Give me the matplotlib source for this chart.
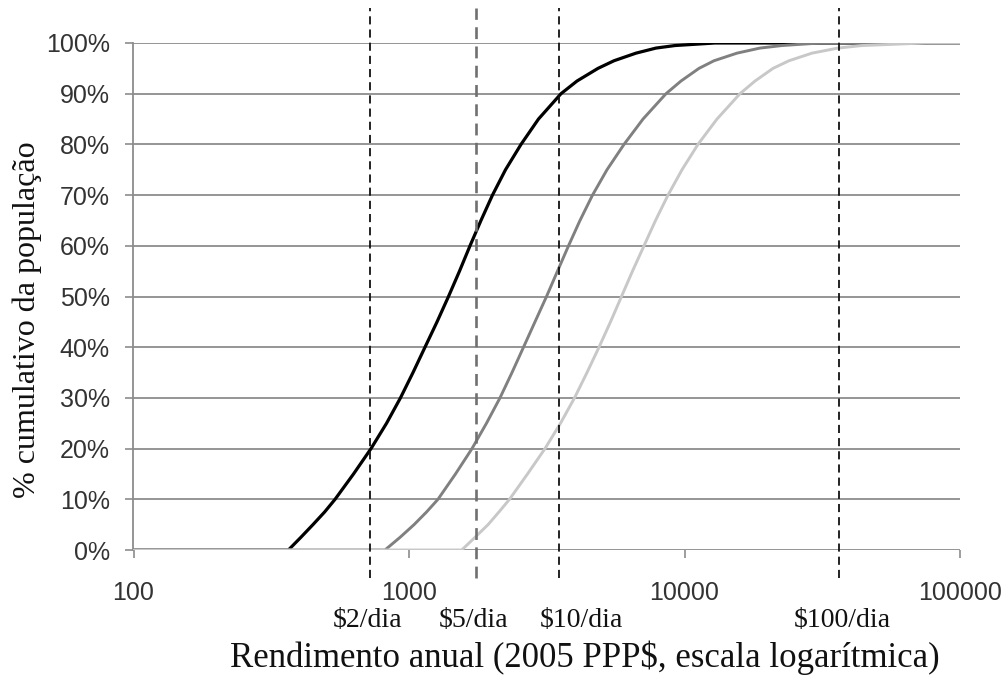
import matplotlib
matplotlib.use("Agg")
import matplotlib.pyplot as plt
import matplotlib.transforms as mtransforms
from matplotlib.ticker import FixedLocator, NullLocator, FuncFormatter

# Cumulative share of population reached at each annual income level (2005 PPP$)
cum_share = [0.000, 0.000, 0.025, 0.050, 0.075, 0.100, 0.150, 0.200, 0.250, 0.300,
             0.350, 0.400, 0.450, 0.500, 0.550, 0.600, 0.650, 0.700, 0.750, 0.800,
             0.850, 0.900, 0.925, 0.950, 0.965, 0.980, 0.990, 0.995, 1.000, 1.000]

income_black = [100, 365, 405, 448, 494, 539, 629, 728, 829, 931,
                1034, 1143, 1264, 1391, 1525, 1665, 1825, 2009, 2240, 2550,
                2951, 3562, 4072, 4854, 5548, 6668, 7882, 9237, 12900, 100000]

income_dark = [100, 818, 928, 1043, 1158, 1274, 1475, 1693, 1911, 2139,
               2365, 2604, 2866, 3156, 3459, 3793, 4175, 4636, 5232, 6031,
               7070, 8568, 9711, 11290, 12800, 15510, 18790, 22590, 31030, 100000]

income_light = [100, 1554, 1736, 1936, 2121, 2316, 2693, 3116, 3547, 3988,
                4427, 4894, 5388, 5906, 6474, 7129, 7849, 8712, 9793, 11190,
                13120, 15900, 18030, 20960, 23950, 29030, 36060, 44090, 74640, 100000]

# Daily income thresholds expressed as annual income
threshold_values = [722, 1750, 3500, 36400]
threshold_labels = ["$2/dia", "$5/dia", "$10/dia", "$100/dia"]

x_ticks = [100, 1000, 10000, 100000]
y_ticks = [0.0, 0.1, 0.2, 0.3, 0.4, 0.5, 0.6, 0.7, 0.8, 0.9, 1.0]

sans = ["Liberation Sans", "DejaVu Sans"]
serif = ["Liberation Serif", "DejaVu Serif"]

W, H = 1003, 677
fig = plt.figure(figsize=(W / 100, H / 100), dpi=100)
ax = fig.add_axes([133.5 / W, 1 - 550 / H, (960 - 133.5) / W, (550 - 43) / H])

ax.set_xscale("log")
ax.set_xlim(100, 100000)
ax.set_ylim(0, 1)

grid_color = "#8c8c8c"
for yv in y_ticks:
    ax.axhline(yv, color=grid_color, lw=1.3, zorder=1)

curve_style = dict(zorder=3, solid_capstyle="round", solid_joinstyle="round")
ax.plot(income_black, cum_share, color="#000000", lw=2.3, **curve_style)
ax.plot(income_dark, cum_share, color="#808080", lw=2.1, **curve_style)
ax.plot(income_light, cum_share, color="#c8c8c8", lw=2.1, **curve_style)

# Vertical dashed threshold lines, reaching beyond the plotting area
trans = mtransforms.blended_transform_factory(ax.transData, ax.transAxes)
line_colors = ["#111111", "#707070", "#111111", "#111111"]
line_widths = [1.3, 1.9, 1.3, 1.3]
label_shift = [-2, -2, 16, 2]
for val, lab, c, lw, dx in zip(threshold_values, threshold_labels,
                               line_colors, line_widths, label_shift):
    ax.plot([val, val], [-0.055, 1.069], transform=trans, clip_on=False,
            color=c, lw=lw, dashes=(4.5, 2.8), zorder=4)
    ax.annotate(lab, xy=(val, -0.152), xycoords=trans,
                xytext=(dx, 0), textcoords="offset points",
                ha="center", va="baseline", fontsize=20,
                family=serif, color="#111111", annotation_clip=False)

for side in ["top", "right", "bottom"]:
    ax.spines[side].set_visible(False)
ax.spines["left"].set_color(grid_color)
ax.spines["left"].set_linewidth(1.3)

ax.xaxis.set_major_locator(FixedLocator(x_ticks))
ax.xaxis.set_minor_locator(NullLocator())
ax.xaxis.set_major_formatter(FuncFormatter(lambda v, p: f"{int(round(v))}"))
ax.yaxis.set_major_locator(FixedLocator(y_ticks))
ax.yaxis.set_major_formatter(FuncFormatter(lambda v, p: f"{int(round(v * 100))}%"))

ax.tick_params(axis="x", direction="out", length=6, width=1.2, color=grid_color,
               pad=16, labelsize=18, labelcolor="#333333")
ax.tick_params(axis="y", direction="out", length=6, width=1.2, color=grid_color,
               pad=11, labelsize=18, labelcolor="#333333")
for lbl in ax.get_xticklabels() + ax.get_yticklabels():
    lbl.set_family(sans)

fig.text(585 / W, 1 - 667 / H, "Rendimento anual (2005 PPP$, escala logarítmica)",
         ha="center", va="baseline", fontsize=25, family=serif, color="#111111")
fig.text(27 / W, 1 - 320 / H, "% cumulativo da população", rotation=90,
         ha="center", va="center", fontsize=23, family=serif, color="#111111")

fig.savefig("out.png", dpi=100, facecolor="white")
